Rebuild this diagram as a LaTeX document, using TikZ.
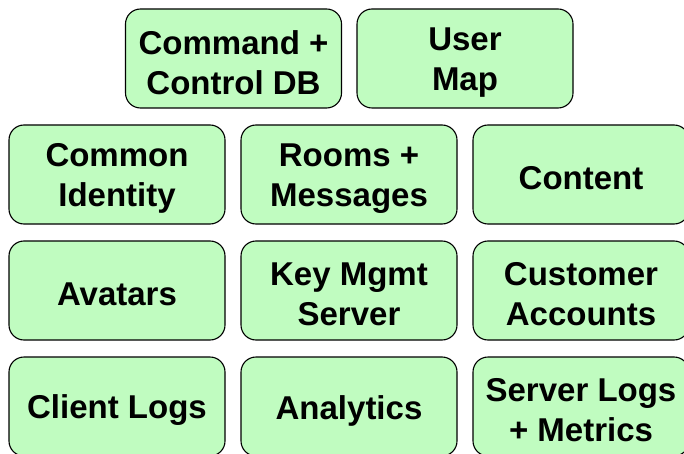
\documentclass[tikz,border=0pt]{standalone}
\usepackage{fontspec}
\setmainfont{Liberation Sans}
\definecolor{boxfill}{HTML}{C0FCC0}
\begin{document}
\begin{tikzpicture}[x=1pt,y=-1pt,
  box/.style={draw=black, line width=1.1pt, fill=boxfill, rounded corners=15pt,
    minimum width=216pt, minimum height=99pt, inner sep=0pt,
    label={[boxtext]center:#1}},
  boxtext/.style={align=center, inner sep=0pt, yshift=-4pt,
    font=\fontsize{33}{40}\selectfont\bfseries}]
\useasboundingbox (0,0) rectangle (684,454);
\clip (0,0) rectangle (684,454);
\node[box={Command +\\Control DB}] (cc) at (233.5,58.5) {};
\node[box={User\\Map}] (um) at (465,58.5) {};
\node[box={Common\\Identity}] (ci) at (117,174.5) {};
\node[box={Rooms +\\Messages}] (rm) at (349,174.5) {};
\node[box={Content}] (ct) at (581,174.5) {};
\node[box={Avatars}] (av) at (117,290.5) {};
\node[box={Key Mgmt\\Server}] (km) at (349,290.5) {};
\node[box={Customer\\Accounts}] (ca) at (581,290.5) {};
\node[box={Client Logs}] (cl) at (117,406.5) {};
\node[box={Analytics}] (an) at (349,406.5) {};
\node[box={Server Logs\\+ Metrics}] (sl) at (581,406.5) {};
\end{tikzpicture}
\end{document}
